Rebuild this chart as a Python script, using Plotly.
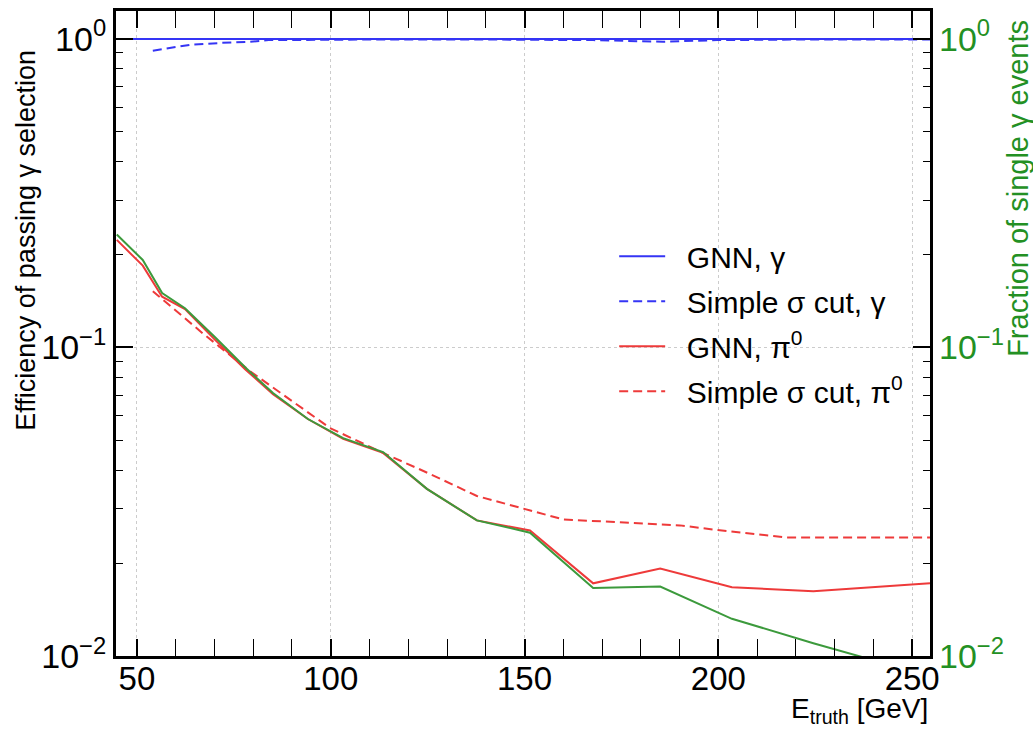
import plotly.graph_objects as go

# ---- data ----
gnn_x = [44.8, 51.5, 56.5, 62.4, 70.1, 77.9, 85.1, 94.1, 103.2, 113.5, 124.8, 137.7,
         151.4, 167.7, 185.0, 203.5, 224.5, 254.6]
gnn_gamma = [0.998, 0.998, 0.998, 0.998, 0.998, 0.998, 0.998, 0.998, 0.998, 0.998, 0.998,
             0.998, 0.998, 0.998, 0.998, 0.998, 0.998, 0.998]
gnn_pi0 = [0.223, 0.184, 0.146, 0.133, 0.106, 0.085, 0.0705, 0.0586, 0.0505, 0.0455, 0.0348,
           0.0275, 0.0255, 0.0172, 0.0192, 0.0167, 0.0162, 0.0172]
frac_single_x = [44.8, 51.5, 56.5, 62.4, 70.1, 77.9, 85.1, 94.1, 103.2, 113.5, 124.8, 137.7,
                 151.4, 167.7, 185.0, 203.5, 224.5, 254.6]
frac_single = [0.232, 0.192, 0.150, 0.134, 0.108, 0.0862, 0.0711, 0.0586, 0.0508, 0.0458,
               0.0348, 0.0275, 0.0251, 0.0166, 0.0168, 0.0132, 0.0110, 0.0086]

sig_gamma_x = [54.1, 63.7, 72.0, 79.2, 84.0, 94.1, 113.5, 137.7, 151.4, 167.7, 185.7,
               199.7, 224.5, 254.6]
sig_gamma = [0.915, 0.956, 0.970, 0.978, 0.990, 0.993, 0.995, 0.995, 0.995, 0.990, 0.978,
             0.990, 0.995, 0.995]
sig_pi0_x = [54.1, 67.0, 79.2, 99.8, 113.5, 125.6, 137.7, 160.0, 190.1, 199.7, 217.7, 254.6]
sig_pi0 = [0.152, 0.111, 0.0837, 0.0548, 0.0455, 0.0389, 0.033, 0.0277, 0.0265, 0.0256,
           0.0242, 0.0242]

x_ticks = [50, 100, 150, 200, 250]
y_ticks = [0.01, 0.1, 1]
y_ticktext = ["10<sup>−2</sup>", "10<sup>−1</sup>", "10<sup>0</sup>"]
legend_names = ["GNN, γ", "Simple σ cut, γ", "GNN, π<sup>0</sup>", "Simple σ cut, π<sup>0</sup>"]

BLUE = "#3535f5"
RED = "#ee3a3a"
GREEN = "#3c9a3c"
GREEN_TXT = "#239023"
FONT = "Liberation Sans, Arial, sans-serif"
PAD = "\u00a0\u00a0"

fig = go.Figure()
fig.add_trace(go.Scatter(x=gnn_x, y=gnn_gamma, mode="lines", name=PAD + legend_names[0],
                         line=dict(color=BLUE, width=2), legendgroup="a"))
fig.add_trace(go.Scatter(x=sig_gamma_x, y=sig_gamma, mode="lines", name=PAD + legend_names[1],
                         line=dict(color=BLUE, width=2, dash="9px,5px"), legendgroup="b"))
fig.add_trace(go.Scatter(x=gnn_x, y=gnn_pi0, mode="lines", name=PAD + legend_names[2],
                         line=dict(color=RED, width=2), legendgroup="c"))
fig.add_trace(go.Scatter(x=sig_pi0_x, y=sig_pi0, mode="lines", name=PAD + legend_names[3],
                         line=dict(color=RED, width=2, dash="9px,5px"), legendgroup="d"))
fig.add_trace(go.Scatter(x=frac_single_x, y=frac_single, mode="lines", showlegend=False,
                         line=dict(color=GREEN, width=2), yaxis="y2"))

minor_y = [m * 10 ** e for e in (-2, -1, 0) for m in range(2, 10)]
yr = [-2, 0.09]

fig.update_layout(
    width=1033, height=730,
    margin=dict(l=116, r=103, t=8, b=74),
    paper_bgcolor="white", plot_bgcolor="white",
    font=dict(family=FONT, size=30, color="black"),
    showlegend=True,
    legend=dict(x=0.612, y=0.66, xanchor="left", yanchor="top",
                bgcolor="rgba(0,0,0,0)", borderwidth=0,
                font=dict(size=30, family=FONT), tracegroupgap=3,
                traceorder="grouped", itemwidth=46),
    xaxis=dict(range=[44.6, 254.6], tickvals=x_ticks, ticks="inside", ticklen=17,
               tickwidth=1.5, tickcolor="black", showline=True, linewidth=3,
               linecolor="black", mirror="allticks", showgrid=True,
               gridcolor="#cccccc", griddash="dot", gridwidth=1, zeroline=False,
               tickfont=dict(size=33), ticklabelstandoff=-9,
               minor=dict(ticks="inside", ticklen=7, dtick=10, tick0=0,
                          tickcolor="black", tickwidth=1.2, showgrid=False)),
    yaxis=dict(type="log", range=yr, tickvals=y_ticks, ticktext=y_ticktext,
               ticks="inside", ticklen=17, tickwidth=1.5, tickcolor="black",
               showline=True, linewidth=3, linecolor="black", mirror="allticks",
               showgrid=True, gridcolor="#cccccc", griddash="dot", gridwidth=1,
               zeroline=False, tickfont=dict(size=34),
               minor=dict(ticks="inside", ticklen=7, tickvals=minor_y,
                          tickcolor="black", tickwidth=1.2, showgrid=False)),
    yaxis2=dict(type="log", range=yr, overlaying="y", side="right",
                tickvals=y_ticks, ticktext=y_ticktext, ticks="", showline=False,
                showgrid=False, zeroline=False, ticklabelstandoff=8,
                tickfont=dict(size=34, color=GREEN_TXT)),
)

fig.add_annotation(text="Efficiency of passing γ selection", textangle=-90,
                   xref="paper", yref="paper", x=-0.11, y=0.943,
                   xanchor="center", yanchor="top", showarrow=False,
                   font=dict(size=27, family=FONT, color="black"))
fig.add_annotation(text="Fraction of single γ events", textangle=-90,
                   xref="paper", yref="paper", x=1.108, y=0.99,
                   xanchor="center", yanchor="top", showarrow=False,
                   font=dict(size=29, family=FONT, color=GREEN_TXT))
fig.add_annotation(text="E<sub>truth</sub> [GeV]",
                   xref="paper", yref="paper", x=1.0, y=-0.114,
                   xanchor="right", yanchor="bottom", showarrow=False,
                   font=dict(size=28, family=FONT, color="black"))

fig.write_html("out.html")
